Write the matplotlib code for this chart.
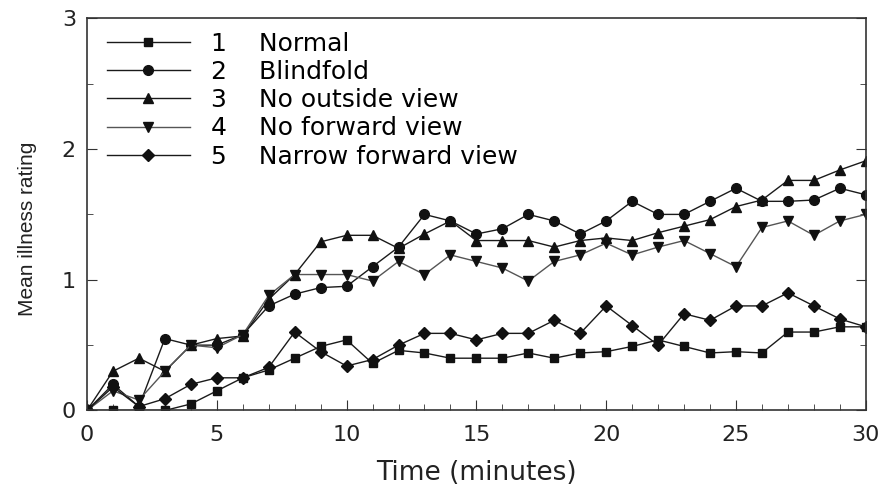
import numpy as np
import matplotlib
matplotlib.use("Agg")
import matplotlib.pyplot as plt
from matplotlib.ticker import MultipleLocator

# --- data (minutes 0..30)
minutes = list(range(31))

normal = [0, 0, 0, 0, 0.05, 0.15, 0.25, 0.31, 0.40, 0.49, 0.54,
          0.36, 0.46, 0.44, 0.40, 0.40, 0.40, 0.44, 0.40, 0.44, 0.45,
          0.49, 0.54, 0.49, 0.44, 0.45, 0.44, 0.60, 0.60, 0.64, 0.64]
blindfold = [0, 0.20, 0.03, 0.55, 0.50, 0.50, 0.58, 0.80, 0.89, 0.94, 0.95,
             1.10, 1.25, 1.50, 1.45, 1.35, 1.39, 1.50, 1.45, 1.35, 1.45,
             1.60, 1.50, 1.50, 1.60, 1.70, 1.60, 1.60, 1.61, 1.70, 1.65]
no_outside = [0, 0.30, 0.40, 0.30, 0.50, 0.55, 0.57, 0.85, 1.04, 1.29, 1.34,
              1.34, 1.24, 1.35, 1.45, 1.30, 1.30, 1.30, 1.25, 1.30, 1.32,
              1.30, 1.36, 1.41, 1.46, 1.56, 1.61, 1.76, 1.76, 1.84, 1.91]
no_forward = [0, 0.15, 0.08, 0.30, 0.50, 0.48, 0.58, 0.88, 1.04, 1.04, 1.04,
              0.99, 1.14, 1.04, 1.19, 1.14, 1.09, 0.99, 1.14, 1.19, 1.28,
              1.19, 1.25, 1.30, 1.20, 1.10, 1.40, 1.45, 1.34, 1.45, 1.50]
narrow = [0, 0.18, 0.03, 0.09, 0.20, 0.25, 0.25, 0.33, 0.60, 0.45, 0.34,
          0.39, 0.50, 0.59, 0.59, 0.54, 0.59, 0.59, 0.69, 0.59, 0.80,
          0.65, 0.50, 0.74, 0.69, 0.80, 0.80, 0.90, 0.80, 0.70, 0.64]

labels = ["1    Normal", "2    Blindfold", "3    No outside view",
          "4    No forward view", "5    Narrow forward view"]

plt.rcParams['font.family'] = ['DejaVu Sans']

fig = plt.figure(figsize=(8.85, 4.87), dpi=100)
ax = fig.add_axes([0.0983, 0.1571, 0.880, 0.8053])

series = [normal, blindfold, no_outside, no_forward, narrow]
markers = ['s', 'o', '^', 'v', 'D']
sizes = [6, 7, 7.5, 7.5, 6]
line_colors = ['#1a1a1a', '#1a1a1a', '#1a1a1a', '#555555', '#1a1a1a']

for ys, m, ms, lc, lab in zip(series, markers, sizes, line_colors, labels):
    ax.plot(minutes, ys, color=lc, lw=1.0, marker=m, markersize=ms,
            markerfacecolor='#111111', markeredgecolor='#111111', label=lab)

ax.set_xlim(0, 30)
ax.set_ylim(0, 3)
ax.xaxis.set_major_locator(MultipleLocator(5))
ax.xaxis.set_minor_locator(MultipleLocator(1))
ax.yaxis.set_major_locator(MultipleLocator(1))
ax.yaxis.set_minor_locator(MultipleLocator(0.5))
ax.tick_params(which='both', direction='in', right=True, top=False,
               colors='#333333', labelcolor='#222222')
ax.tick_params(which='major', length=7, labelsize=16)
ax.tick_params(which='minor', length=4)
ax.tick_params(axis='x', which='major', pad=10.5)
ax.tick_params(axis='y', which='major', pad=8)
for sp in ax.spines.values():
    sp.set_color('#333333')
    sp.set_linewidth(1.2)

ax.set_xlabel('Time (minutes)', fontsize=19, color='#222222', labelpad=11)
ax.set_ylabel('Mean illness rating', fontsize=15, color='#222222',
              family='Liberation Sans')
ax.yaxis.set_label_coords(-0.064, 0.463)

ax.legend(loc='upper left', bbox_to_anchor=(0.0257, 0.966), frameon=False,
          fontsize=18, handlelength=3.3, handletextpad=0.85,
          labelspacing=0.17, borderaxespad=0, borderpad=0)

fig.savefig('out.png', dpi=100)
